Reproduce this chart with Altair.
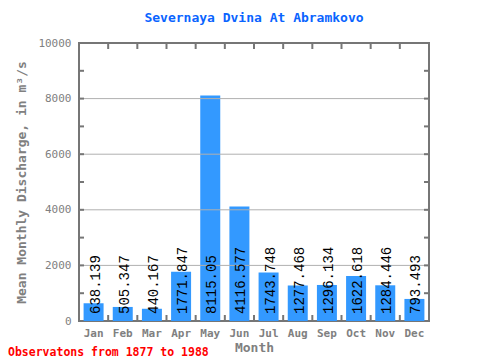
import altair as alt
import pandas as pd

months = ["Jan", "Feb", "Mar", "Apr", "May", "Jun", "Jul", "Aug", "Sep", "Oct", "Nov", "Dec"]
values = [638.139, 505.347, 440.167, 1771.847, 8115.05, 4116.577, 1743.748, 1277.468, 1296.134, 1622.618, 1284.446, 793.493]
labels = ["638.139", "505.347", "440.167", "1771.847", "8115.05", "4116.577", "1743.748", "1277.468", "1296.134", "1622.618", "1284.446", "793.493"]
y_label_values = [0, 2000, 4000, 6000, 8000, 10000]
grid_values = [2000, 4000, 6000, 8000]
minor_tick_values = [1000, 2000, 3000, 4000, 5000, 6000, 7000, 8000, 9000]
title_text = "Severnaya Dvina At Abramkovo"
y_title = "Mean Monthly Discharge, in  m³/s"
note_text = "Observatons from 1877 to 1988"

W, H = 350, 278
MONO = "DejaVu Sans Mono"
GRAY = "#808080"
FRAME = "#767676"

df = pd.DataFrame({"month": months, "value": values, "label": labels})
grid_df = pd.DataFrame({"value": grid_values})
tick_df = pd.DataFrame({"value": minor_tick_values})
note_df = pd.DataFrame({"t": [note_text]})

xscale = alt.Scale(domain=months, paddingInner=0, paddingOuter=0)
yscale = alt.Scale(domain=[0, 10000], nice=False)

xaxis = alt.Axis(title="Month", labelAngle=0, ticks=False, domain=False,
                 labelFont=MONO, labelFontSize=11, labelFontWeight="bold",
                 labelColor=GRAY, labelPadding=6,
                 titleFont=MONO, titleFontSize=13, titleFontWeight="bold",
                 titleColor=GRAY, titlePadding=3)
yaxis = alt.Axis(values=y_label_values, format="d", title=y_title, ticks=False, domain=False,
                 grid=False, labelFont=MONO, labelFontSize=11,
                 labelColor=GRAY, labelPadding=8,
                 titleFont=MONO, titleFontSize=13, titleFontWeight="bold",
                 titleColor=GRAY, titlePadding=9)

X = alt.X("month:N", scale=xscale, sort=months, axis=xaxis)
Y = alt.Y("value:Q", scale=yscale, axis=yaxis)

base = alt.Chart(df)

bars = base.mark_bar(size=20, color="#3399ff").encode(x=X, y=Y)

grid = alt.Chart(grid_df).mark_rule(color="#b0b0b0", strokeWidth=1).encode(y=Y)

left_ticks = alt.Chart(tick_df).mark_rule(color=FRAME, strokeWidth=2).encode(
    y=Y, x=alt.value(0), x2=alt.value(5)
)
right_ticks = alt.Chart(tick_df).mark_rule(color=FRAME, strokeWidth=2).encode(
    y=Y, x=alt.value(W - 5), x2=alt.value(W)
)

bx = alt.X("month:N", scale=xscale, sort=months, bandPosition=0, axis=xaxis)
top_ticks = base.transform_filter(alt.datum.month != "Jan").mark_rule(color=FRAME, strokeWidth=2).encode(
    x=bx, y=alt.value(0), y2=alt.value(6)
)
bottom_ticks = base.transform_filter(alt.datum.month != "Jan").mark_rule(color=FRAME, strokeWidth=2).encode(
    x=bx, y=alt.value(H - 6), y2=alt.value(H)
)

texts = base.mark_text(angle=270, align="left", baseline="middle", dx=7, dy=2,
                       font="Liberation Mono", fontSize=14, color="black").encode(
    x=X,
    y=alt.Y(datum=0, scale=yscale, axis=yaxis),
    text="label:N",
)

note = alt.Chart(note_df).mark_text(align="left", baseline="alphabetic", color="#ff0000",
                                    font=MONO, fontSize=11.5, fontWeight="bold").encode(
    x=alt.value(-71), y=alt.value(313), text="t:N"
)

chart = alt.layer(bars, grid, left_ticks, right_ticks, top_ticks, bottom_ticks, texts, note).properties(
    width=W, height=H,
    title=alt.TitleParams(title_text, font=MONO, fontSize=13, fontWeight="bold",
                          color="#0a64ff", anchor="middle", offset=12),
    autosize=alt.AutoSizeParams(type="none"),
    padding={"left": 71, "top": 35, "right": 43, "bottom": 37},
).configure_view(stroke=FRAME, strokeWidth=2)

chart.save("out.html", embed_options={"renderer": "svg", "actions": False})
